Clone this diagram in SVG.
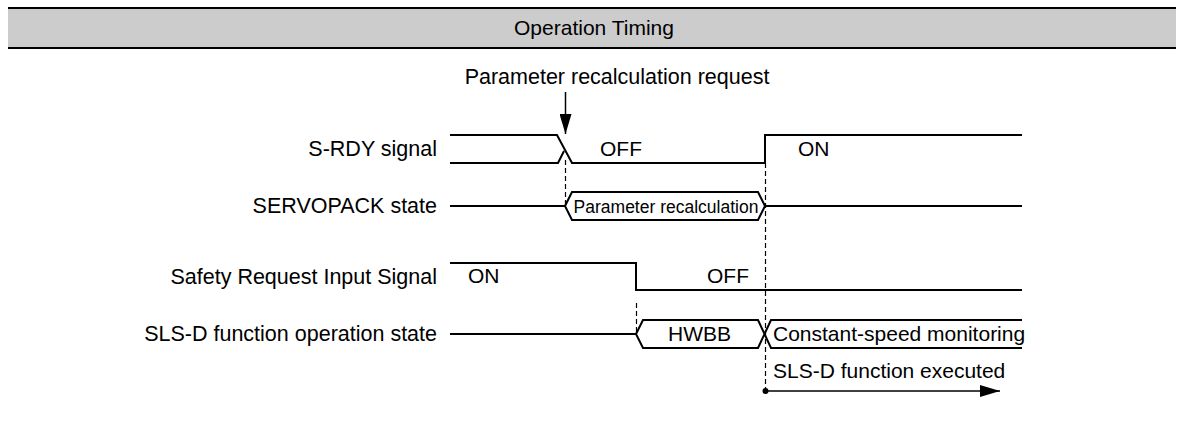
<svg xmlns="http://www.w3.org/2000/svg" width="1184" height="423" viewBox="0 0 1184 423">
<defs>
<style>
text{font-family:"Liberation Sans",Arial,sans-serif;fill:#000;}
.lbl{font-size:21.5px;text-anchor:end;}
.t{font-size:21px;}
.sig{fill:none;stroke:#000;stroke-width:2;}
.dash{fill:none;stroke:#000;stroke-width:1.2;stroke-dasharray:5,3;}
</style>
<marker id="ah" markerWidth="20" markerHeight="12" refX="20" refY="6" orient="auto" markerUnits="userSpaceOnUse">
<path d="M0,0 L20,6 L0,12 Z" fill="#000"/>
</marker>
</defs>
<rect width="1184" height="423" fill="#fff"/>
<g id="header">
<rect x="8" y="8" width="1168" height="39" fill="#cccccc"/>
<line x1="8" y1="8" x2="1176" y2="8" stroke="#000" stroke-width="2"/>
<line x1="8" y1="48" x2="1176" y2="48" stroke="#000" stroke-width="2"/>
<text x="594" y="35" font-size="21" text-anchor="middle">Operation Timing</text>
</g>
<g id="labels">
<text class="lbl" x="437" y="156">S-RDY signal</text>
<text class="lbl" x="437" y="213">SERVOPACK state</text>
<text class="lbl" x="437" y="284">Safety Request Input Signal</text>
<text class="lbl" x="437" y="341">SLS-D function operation state</text>
</g>
<g id="request">
<text x="617" y="84" font-size="21.5" text-anchor="middle">Parameter recalculation request</text>
<line x1="565.5" y1="92" x2="565.5" y2="134" stroke="#000" stroke-width="1.5" marker-end="url(#ah)"/>
</g>
<g id="srdy">
<polyline class="sig" points="450,135 557,135 572,163 765,163 765,135 1022,135"/>
<polyline class="sig" points="450,163 558,163 564,151"/>
<text class="t" x="600" y="156">OFF</text>
<text class="t" x="798" y="156">ON</text>
</g>
<g id="servopack">
<line class="sig" x1="450" y1="206" x2="565" y2="206"/>
<polygon class="sig" points="565,206 572,192 758,192 765,206 758,220 572,220"/>
<line class="sig" x1="765" y1="206" x2="1022" y2="206"/>
<text x="666" y="212.5" font-size="17.5" text-anchor="middle">Parameter recalculation</text>
</g>
<g id="safety">
<polyline class="sig" points="450,263 636,263 636,290 1022,290"/>
<text class="t" x="468" y="283">ON</text>
<text class="t" x="707" y="283">OFF</text>
</g>
<g id="slsd">
<line class="sig" x1="450" y1="334" x2="636" y2="334"/>
<polyline class="sig" points="1022,320 771,320 758,348 643,348 636,334 643,320 758,320 771,348 1022,348"/>
<text class="t" x="668" y="341">HWBB</text>
<text class="t" x="773" y="341">Constant-speed monitoring</text>
<text class="t" x="773" y="378">SLS-D function executed</text>
</g>
<g id="connectors">
<line class="dash" x1="565.5" y1="160" x2="565.5" y2="206"/>
<line class="dash" x1="765.5" y1="163" x2="765.5" y2="391"/>
<line class="dash" x1="636.5" y1="303" x2="636.5" y2="334"/>
<circle cx="765.5" cy="391" r="3" fill="#000"/>
<line x1="765" y1="391" x2="1000" y2="391" stroke="#000" stroke-width="1.5" marker-end="url(#ah)"/>
</g>
</svg>
